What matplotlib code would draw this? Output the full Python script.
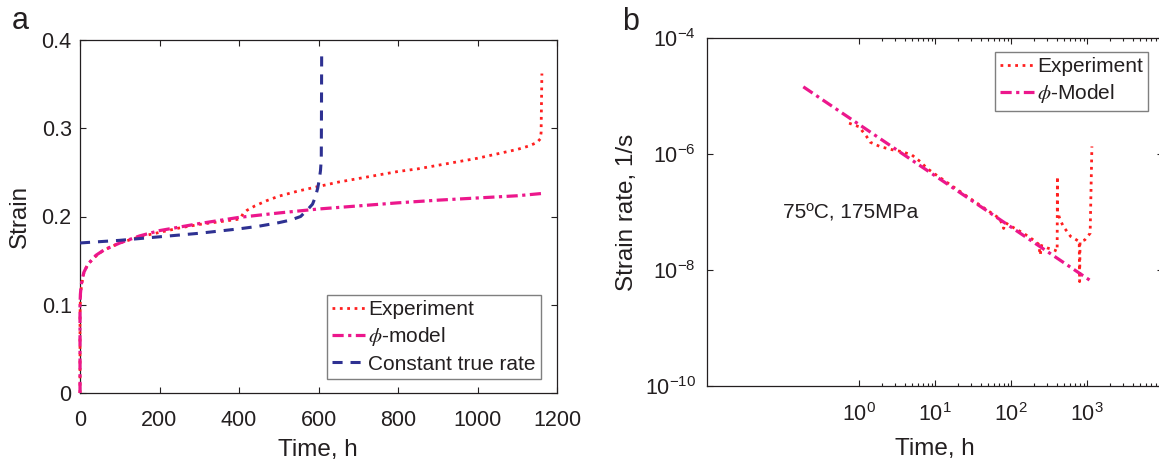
import matplotlib
matplotlib.use("Agg")
import matplotlib.pyplot as plt
from matplotlib.ticker import FixedLocator, NullLocator

# panel a: strain vs time
exp_t = [0, 0, 0.5, 2, 5, 10, 20, 40, 60, 80, 100, 150, 200, 250, 300, 350, 400,
         405, 410, 420, 440, 470, 500, 550, 600, 650, 700, 750, 800, 850, 900,
         950, 1000, 1050, 1100, 1130, 1150, 1158, 1160, 1161, 1162]
exp_strain = [0, 0.08, 0.10, 0.115, 0.125, 0.137, 0.146, 0.155, 0.162, 0.166, 0.170,
              0.177, 0.182, 0.187, 0.191, 0.194, 0.197, 0.199, 0.203, 0.207, 0.212,
              0.218, 0.223, 0.229, 0.234, 0.239, 0.243, 0.247, 0.251, 0.254, 0.258,
              0.262, 0.266, 0.271, 0.276, 0.280, 0.284, 0.288, 0.295, 0.33, 0.362]

phi_t = [0, 0, 1, 3, 6, 10, 20, 40, 60, 100, 150, 200, 300, 400, 500, 600, 700,
         800, 900, 1000, 1100, 1160]
phi_strain = [0, 0.10, 0.112, 0.122, 0.130, 0.137, 0.146, 0.156, 0.162, 0.170, 0.178,
              0.184, 0.192, 0.199, 0.204, 0.2085, 0.212, 0.2155, 0.2185, 0.221,
              0.2235, 0.226]

ctr_t = [0, 100, 200, 300, 400, 450, 500, 530, 555, 575, 585, 592, 598, 602, 605,
         607, 607.5, 608]
ctr_strain = [0.170, 0.173, 0.177, 0.181, 0.186, 0.189, 0.193, 0.196, 0.200, 0.209,
              0.214, 0.222, 0.232, 0.242, 0.252, 0.265, 0.32, 0.39]

a_yticks = [0, 0.1, 0.2, 0.3, 0.4]
a_yticklabels = ["0", "0.1", "0.2", "0.3", "0.4"]
a_xticks = [0, 200, 400, 600, 800, 1000, 1200]

# panel b: strain rate vs time (log-log)
rate_t = [0.74, 1.0, 1.26, 1.4, 1.9, 2.84, 3.66, 4.97, 6.4, 7.8, 10, 20, 30, 50, 70,
          74, 80, 85, 100, 150, 200, 230, 243, 250, 300, 375, 405, 408, 409, 450,
          490, 608, 790, 800, 810, 935, 1100, 1160]
rate_exp = [3.4e-6, 2.95e-6, 2.0e-6, 1.6e-6, 1.34e-6, 1.17e-6, 1.1e-6, 9.6e-7, 7.4e-7,
            5.7e-7, 4.5e-7, 2.4e-7, 1.66e-7, 1.05e-7, 7.8e-8, 6.8e-8, 5.2e-8, 6.5e-8,
            5.7e-8, 4.2e-8, 3.25e-8, 2.8e-8, 1.8e-8, 2.65e-8, 2.4e-8, 2.2e-8, 2.1e-8,
            4.1e-7, 1.0e-7, 7.0e-8, 5.6e-8, 3.8e-8, 3.1e-8, 6.3e-9, 3.1e-8, 3.3e-8,
            4.3e-8, 1.35e-6]

model_t = [0.185, 1160]
model_rate = [1.44e-5, 6.3e-9]

b_xticks = [1, 10, 100, 1000, 10000]
b_xticklabels = [r"$\mathregular{10^{0}}$", r"$\mathregular{10^{1}}$",
                 r"$\mathregular{10^{2}}$", r"$\mathregular{10^{3}}$", ""]
b_yticks = [1e-10, 1e-8, 1e-6, 1e-4]
b_yticklabels = [r"$\mathregular{10^{-10}}$", r"$\mathregular{10^{-8}}$",
                 r"$\mathregular{10^{-6}}$", r"$\mathregular{10^{-4}}$"]

plt.rcParams["font.family"] = ["Liberation Sans", "DejaVu Sans"]
plt.rcParams["mathtext.fontset"] = "stix"

INK = "#231f20"
RED = "#ff2020"
PINK = "#ec178c"
NAVY = "#2e3192"

W, H = 1159, 462
fig = plt.figure(figsize=(W / 100, H / 100), dpi=100)


def px_axes(x0, y0, x1, y1):
    return fig.add_axes([x0 / W, 1 - y1 / H, (x1 - x0) / W, (y1 - y0) / H])


def style(ax):
    for s in ax.spines.values():
        s.set_linewidth(0.9)
        s.set_color(INK)
    ax.tick_params(which="both", direction="in", top=True, right=True,
                   colors=INK, labelsize=15.5, width=0.8)
    ax.tick_params(which="major", length=4)
    ax.tick_params(which="minor", length=2)


# ---- panel a
ax1 = px_axes(80, 40, 557, 393)
ax1.plot(exp_t, exp_strain, ls=":", color=RED, lw=2.0, label="Experiment",
         zorder=3, clip_on=False)
ax1.plot(phi_t, phi_strain, color=PINK, lw=2.3, dashes=(3.5, 1.4, 1.0, 1.4),
         label=r"$\phi$-model", zorder=3, clip_on=False)
ax1.plot(ctr_t, ctr_strain, color=NAVY, lw=2.2, dashes=(3.3, 2.6),
         label="Constant true rate", zorder=3)
ax1.set_xlim(0, 1200)
ax1.set_ylim(0, 0.4)
ax1.set_xticks(a_xticks)
ax1.set_yticks(a_yticks)
ax1.set_yticklabels(a_yticklabels)
style(ax1)
ax1.tick_params(axis="x", pad=12)
ax1.tick_params(axis="y", pad=6)
leg1 = ax1.legend(loc="lower right", bbox_to_anchor=(0.9665, 0.04), borderaxespad=0,
                  fontsize=15, handlelength=1.6, handletextpad=0.15,
                  labelspacing=0.3, borderpad=0.25, fancybox=False, framealpha=1)
leg1.get_frame().set_edgecolor("#7f7f7f")
leg1.get_frame().set_linewidth(1.0)
leg1.set_zorder(5)
for t in leg1.get_texts():
    t.set_color(INK)
fig.text(20 / W, 1 - 216 / H, "Strain", rotation=90, ha="center", va="center",
         fontsize=17.5, color=INK)
fig.text(318 / W, 1 - 456 / H, "Time, h", ha="center", va="baseline",
         fontsize=17.5, color=INK)
fig.text(12 / W, 1 - 29 / H, "a", ha="left", va="baseline", fontsize=22, color=INK)

# ---- panel b
ax2 = px_axes(707, 38, 1163, 386)
ax2.set_xscale("log")
ax2.set_yscale("log")
ax2.plot(rate_t, rate_exp, ls=":", color=RED, lw=2.0, label="Experiment")
ax2.plot(model_t, model_rate, color=PINK, lw=2.3, dashes=(3.5, 1.4, 1.0, 1.4),
         label=r"$\phi$-Model")
ax2.set_xlim(1e-2, 1e4)
ax2.set_ylim(1e-10, 1e-4)
ax2.xaxis.set_major_locator(FixedLocator(b_xticks))
ax2.set_xticklabels(b_xticklabels)
ax2.xaxis.set_minor_locator(FixedLocator([m * 10 ** k for k in range(0, 4)
                                          for m in range(2, 10)]))
ax2.yaxis.set_major_locator(FixedLocator(b_yticks))
ax2.set_yticklabels(b_yticklabels)
ax2.yaxis.set_minor_locator(NullLocator())
style(ax2)
ax2.tick_params(axis="x", pad=12)
ax2.tick_params(axis="y", pad=8)
leg2 = ax2.legend(loc="upper right",
                  bbox_to_anchor=(1148 / W, 1 - 52 / H), bbox_transform=fig.transFigure,
                  borderaxespad=0, fontsize=15, handlelength=1.6, handletextpad=0.15,
                  labelspacing=0.3, borderpad=0.25, fancybox=False, framealpha=1)
leg2.get_frame().set_edgecolor("#7f7f7f")
leg2.get_frame().set_linewidth(1.0)
for t in leg2.get_texts():
    t.set_color(INK)
ax2.text(783 / W, 1 - 213 / H, "75ºC, 175MPa", transform=fig.transFigure,
         ha="left", va="center", fontsize=15, color=INK)
fig.text(627 / W, 1 - 212 / H, "Strain rate, 1/s", rotation=90, ha="center",
         va="center", fontsize=17.5, color=INK)
fig.text(935 / W, 1 - 455 / H, "Time, h", ha="center", va="baseline",
         fontsize=17.5, color=INK)
fig.text(622 / W, 1 - 30 / H, "b", ha="left", va="baseline", fontsize=22, color=INK)

fig.savefig("out.png", dpi=100)
